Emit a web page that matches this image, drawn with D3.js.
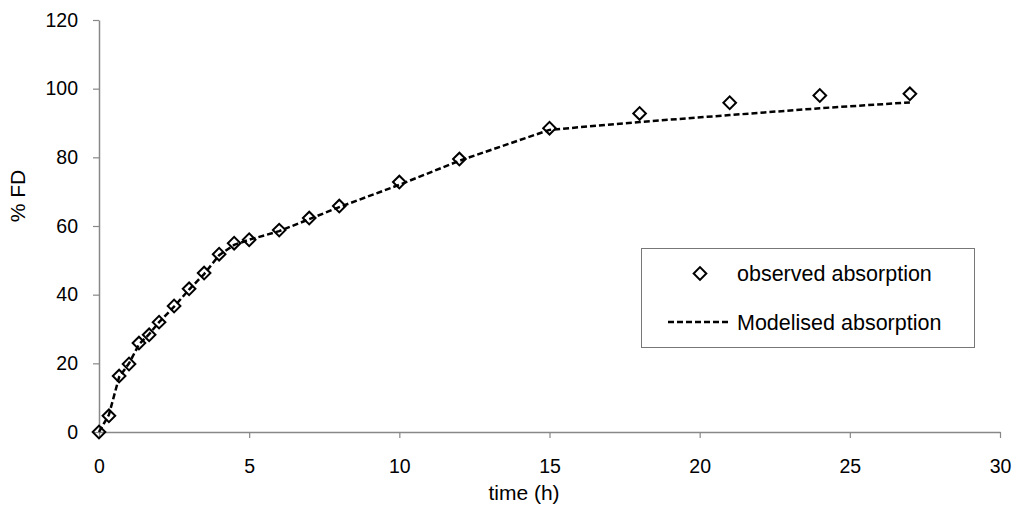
<!DOCTYPE html>
<html><head><meta charset="utf-8">
<script src="https://cdn.jsdelivr.net/npm/d3@7"></script>
<style>body{margin:0;background:#fff}svg{display:block}text{font-family:"Liberation Sans",Arial,sans-serif}</style>
</head><body>
<svg id="c" width="1024" height="508"></svg>
<script>
const timeObs = [0,0.33,0.67,1,1.33,1.67,2,2.5,3,3.5,4,4.5,5,6,7,8,10,12,15,18,21,24,27];
const fdObs   = [0,4.7,16.3,19.8,25.9,28.3,32,36.7,41.7,46.3,51.8,55,56,58.8,62.3,65.8,72.8,79.5,88.5,92.8,95.9,98.0,98.5];
const timeMod = [0,0.33,0.67,1,1.33,1.67,2,2.5,3,3.5,4,4.5,5,6,7,8,10,12,15,18,21,24,27];
const fdMod   = [0,5,16,20,25.5,28.5,32,36.5,41.5,46,51.5,54.5,56,58.5,62,65.5,72,79,88,90.3,92.3,94.3,96];
const xTicks = [0,5,10,15,20,25,30];
const yTicks = [0,20,40,60,80,100,120];
const legendLabels = ["observed absorption","Modelised absorption"];

const svg = d3.select("#c");
const x = d3.scaleLinear().domain([0,30]).range([99,1000]);
const y = d3.scaleLinear().domain([0,120]).range([432,20]);
const axisColor = "#888";
const font = "'Liberation Sans',Arial,sans-serif";

const gx = svg.append("g").attr("transform","translate(0,432)")
  .call(d3.axisBottom(x).tickValues(xTicks).tickSize(6).tickPadding(22).tickSizeOuter(0));
const gy = svg.append("g").attr("transform","translate(99,0)")
  .call(d3.axisLeft(y).tickValues(yTicks).tickSize(6).tickPadding(15).tickSizeOuter(0));
[gx,gy].forEach(g=>{
  g.select(".domain").attr("stroke",axisColor).attr("stroke-width",1.5);
  g.selectAll(".tick line").attr("stroke",axisColor).attr("stroke-width",1.2);
  g.selectAll(".tick text").attr("fill","#000").style("font-size","19.5px").style("font-family",font);
});
gx.selectAll(".tick text").attr("dy","0");
gx.selectAll(".tick text").attr("y",473-432);

svg.append("text").attr("x",524).attr("y",500).attr("text-anchor","middle").style("font-size","21px").text("time (h)");
svg.append("text").attr("transform","translate(25,196) rotate(-90)").attr("text-anchor","middle").style("font-size","21px").text("% FD");

const line = d3.line().x((d,i)=>x(timeMod[i])).y(d=>y(d));
svg.append("path").datum(fdMod).attr("d",line).attr("fill","none").attr("stroke","#000")
  .attr("stroke-width",2.5).attr("stroke-dasharray","6,3");

const diamond = d3.symbol().type(d3.symbolSquare).size(80);
svg.append("g").selectAll("path").data(fdObs).join("path")
  .attr("d",diamond)
  .attr("transform",(d,i)=>`translate(${x(timeObs[i])},${y(d)}) rotate(45)`)
  .attr("fill","none").attr("stroke","#000").attr("stroke-width",2);

// legend
const lg = svg.append("g");
lg.append("rect").attr("x",641.5).attr("y",248.5).attr("width",333).attr("height",99)
  .attr("fill","#fff").attr("stroke","#777").attr("stroke-width",1);
lg.append("path").attr("d",diamond).attr("transform","translate(700,273.5) rotate(45)")
  .attr("fill","none").attr("stroke","#000").attr("stroke-width",2);
lg.append("text").attr("x",737).attr("y",281).style("font-size","21.5px").text(legendLabels[0]);
lg.append("line").attr("x1",668).attr("x2",731).attr("y1",322).attr("y2",322)
  .attr("stroke","#000").attr("stroke-width",2.5).attr("stroke-dasharray","6,3");
lg.append("text").attr("x",737).attr("y",330).style("font-size","21.5px").text(legendLabels[1]);
</script>
</body></html>
